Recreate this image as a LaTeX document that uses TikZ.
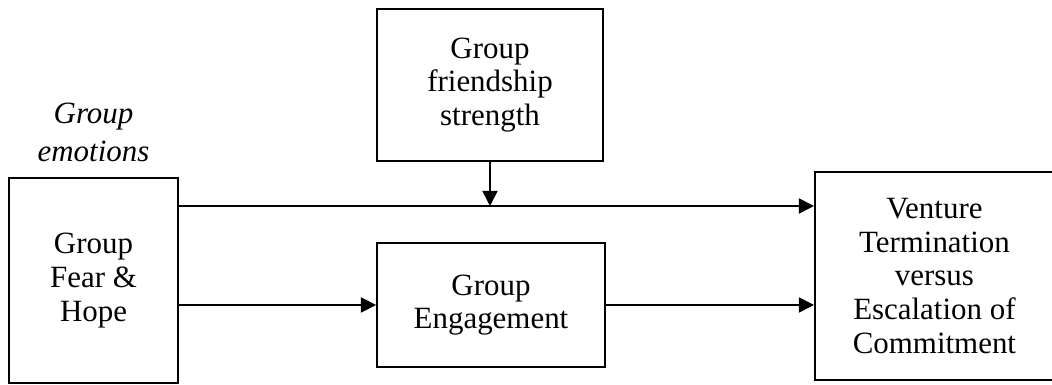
\documentclass[tikz,border=0pt]{standalone}
\usepackage{fontspec}
\setmainfont{Liberation Serif}
\usetikzlibrary{positioning,arrows.meta,calc}
\tikzset{
  blk/.style={draw=black,line width=1.3pt,align=center,inner sep=0pt,
    font=\fontsize{22}{24}\selectfont},
  flow/.style={-{Triangle[length=3.8mm,width=3.8mm]},line width=1.1pt},
  lbl/.style={align=center,font=\fontsize{22}{27}\selectfont\itshape},
}
\begin{document}
\begin{tikzpicture}
  \useasboundingbox (0,0) rectangle (26.3,9.625);
  % boxes
  \node[blk,minimum width=4.225cm,minimum height=5.125cm] (emo) at (2.3375,2.6125) {Group\\Fear \&\\Hope};
  \node[blk,minimum width=5.65cm,minimum height=3.8cm] (frnd) at (12.25,7.5) {Group\\friendship\\strength};
  \node[blk,minimum width=5.7cm,minimum height=3.1cm] (eng) at (12.275,2.0) {Group\\Engagement};
  \node[blk,minimum width=5.975cm,minimum height=5.2cm] (out) at (23.36,2.725) {Venture\\Termination\\versus\\Escalation of\\Commitment};
  \node[lbl] (emolbl) at (2.3375,6.32) {Group\\emotions};
  % direct path, moderated by friendship
  \coordinate (dirA) at (emo.east |- 0,4.475);
  \coordinate (dirB) at (out.west |- 0,4.475);
  \coordinate (modpt) at (frnd.south |- dirA);
  \draw[flow] (dirA) -- (dirB);
  \draw[flow] (frnd.south) -- (modpt);
  % mediated path
  \draw[flow] (emo.east |- eng.west) -- (eng.west);
  \draw[flow] (eng.east) -- (out.west |- eng.east);
\end{tikzpicture}
\end{document}
